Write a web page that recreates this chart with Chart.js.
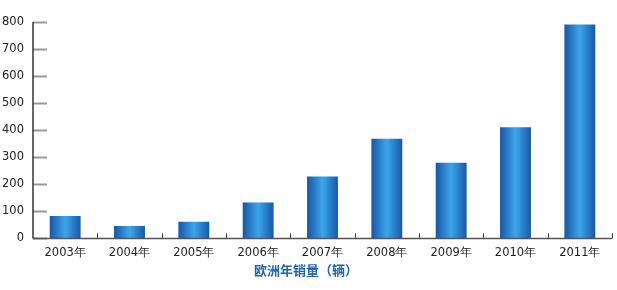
<!DOCTYPE html>
<html>
<head>
<meta charset="utf-8">
<script src="https://cdn.jsdelivr.net/npm/chart.js@4"></script>
<style>
  html, body { margin: 0; padding: 0; background: #fff; }
  #wrap { width: 617px; height: 290px; }
</style>
</head>
<body>
<div id="wrap"><canvas id="salesChart" width="617" height="290"></canvas></div>
<script>
const years = ['2003年', '2004年', '2005年', '2006年', '2007年', '2008年', '2009年', '2010年', '2011年'];
const sales = [83, 46, 62, 133, 229, 368, 280, 411, 791];
const yTicks = [0, 100, 200, 300, 400, 500, 600, 700, 800];
const titleText = '欧洲年销量（辆）';

// short tick marks drawn inside the plot, like the original
const axisMarks = {
  id: 'axisMarks',
  afterDatasetsDraw(chart) {
    const ctx = chart.ctx;
    const x = chart.scales.x;
    const y = chart.scales.y;
    const area = chart.chartArea;
    ctx.save();
    ctx.strokeStyle = '#999';
    ctx.lineWidth = 2;
    yTicks.forEach(v => {
      const py = Math.round(y.getPixelForValue(v)) + 0.5;
      ctx.beginPath();
      ctx.moveTo(area.left, py);
      ctx.lineTo(area.left + 14, py);
      ctx.stroke();
    });
    ctx.strokeStyle = '#333';
    ctx.lineWidth = 1;
    for (let i = 1; i <= years.length; i++) {
      const px = Math.round((x.getPixelForValue(i - 1) + x.getPixelForValue(Math.min(i, years.length - 1)) ) / 2);
      const edge = i === years.length ? area.right : px;
      ctx.beginPath();
      ctx.moveTo(edge + 0.5, area.bottom);
      ctx.lineTo(edge + 0.5, area.bottom - 5);
      ctx.stroke();
    }
    // axis lines
    ctx.strokeStyle = '#555';
    ctx.lineWidth = 1.5;
    ctx.beginPath();
    ctx.moveTo(area.left, area.bottom);
    ctx.lineTo(area.right, area.bottom);
    ctx.stroke();
    ctx.strokeStyle = '#333';
    ctx.beginPath();
    ctx.moveTo(area.left, area.top);
    ctx.lineTo(area.left, area.bottom);
    ctx.stroke();
    ctx.restore();
  }
};

function barFill(context) {
  const chart = context.chart;
  const x = chart.scales.x;
  if (!x || !chart.chartArea) return '#2b82cc';
  const cx = x.getPixelForValue(context.dataIndex);
  const half = (x.width / years.length) * 0.48 / 2;
  const g = chart.ctx.createLinearGradient(cx - half, 0, cx + half, 0);
  g.addColorStop(0, '#1656a8');
  g.addColorStop(0.5, '#3ca6e8');
  g.addColorStop(1, '#1758ab');
  return g;
}

new Chart(document.getElementById('salesChart'), {
  type: 'bar',
  data: {
    labels: years,
    datasets: [{
      data: sales,
      backgroundColor: barFill,
      borderWidth: 0,
      categoryPercentage: 1,
      barPercentage: 0.48
    }]
  },
  options: {
    responsive: false,
    animation: false,
    layout: { padding: { top: 22, right: 5, left: 0, bottom: 12 } },
    plugins: {
      legend: { display: false },
      tooltip: { enabled: false },
      title: {
        display: true,
        position: 'bottom',
        text: titleText,
        color: '#1d64b4',
        font: { family: '"Noto Sans CJK SC", "DejaVu Sans", sans-serif', size: 13, weight: 'bold' },
        padding: { top: 4, bottom: 0 }
      }
    },
    scales: {
      x: {
        afterFit(scale) { scale.height = 20; },
        grid: { display: false, drawTicks: false },
        border: { display: false },
        ticks: {
          color: '#222',
          padding: 8,
          font: { family: '"DejaVu Sans", sans-serif', size: 11.5 }
        }
      },
      y: {
        min: 0,
        max: 800,
        afterFit(scale) { scale.width = 33; },
        grid: { display: false, drawTicks: false },
        border: { display: false },
        ticks: {
          stepSize: 100,
          padding: 9,
          color: '#222',
          font: { family: '"DejaVu Sans", sans-serif', size: 11.5 }
        }
      }
    }
  },
  plugins: [axisMarks]
});
</script>
</body>
</html>
